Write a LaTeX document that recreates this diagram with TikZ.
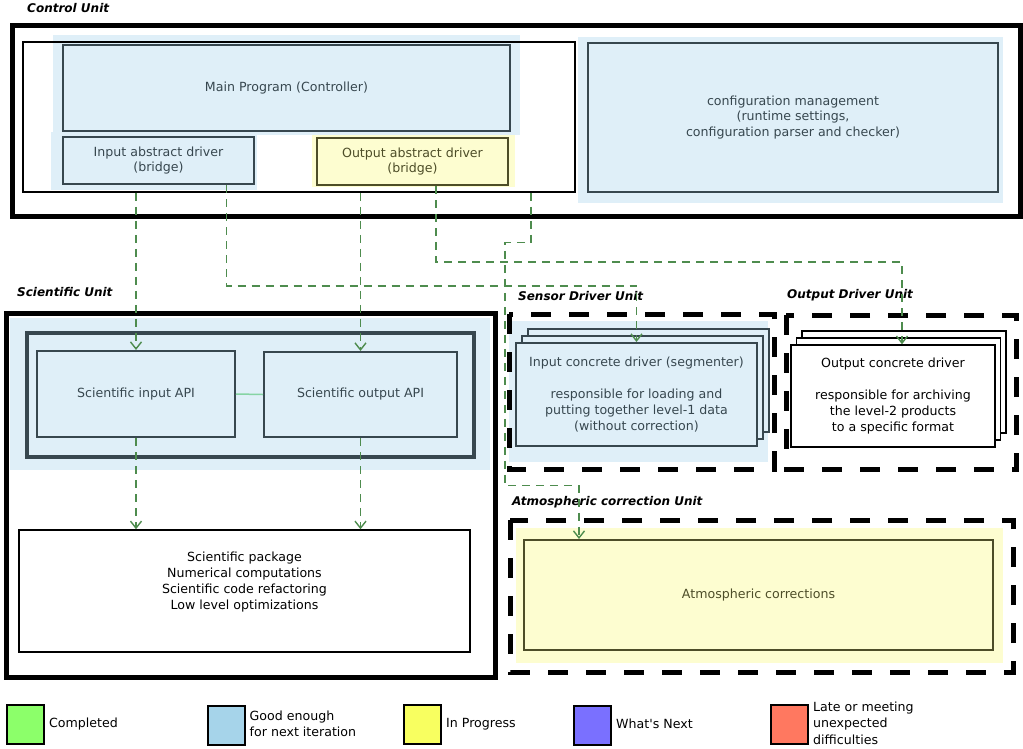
\documentclass[tikz,border=0pt]{standalone}
\usepackage{fontspec}
\setmainfont{DejaVu Sans}
\usetikzlibrary{arrows.meta,positioning}

\definecolor{paleblue}{HTML}{DFEFF8}
\definecolor{slate}{HTML}{37474F}
\definecolor{paleyellow}{HTML}{FDFDD0}
\definecolor{darkolive}{HTML}{4D4D28}
\definecolor{connectgreen}{HTML}{4E8C4E}
\definecolor{linkgreen}{HTML}{86D4A4}
\definecolor{legendgreen}{HTML}{8CFF6A}
\definecolor{legendblue}{HTML}{A6D4EA}
\definecolor{legendyellow}{HTML}{F8FF60}
\definecolor{legendpurple}{HTML}{7A70FF}
\definecolor{legendred}{HTML}{FF7860}

\newcommand{\maintext}{\fontsize{12.6}{15.8}\selectfont}

\tikzset{
  unitlabel/.style={anchor=west, inner sep=0pt, font=\fontsize{12}{14}\selectfont\bfseries\itshape},
  unitbox/.style={draw, line width=5pt},
  dashunit/.style={draw, line width=5pt, dash pattern=on 20pt off 18pt},
  bluebox/.style={draw=slate, line width=2pt, fill=paleblue, text=slate, align=center, font=\maintext},
  yellowbox/.style={draw=darkolive, line width=2pt, fill=paleyellow, text=darkolive, align=center, font=\maintext},
  whitebox/.style={draw, line width=1.5pt, fill=white, align=center, font=\maintext},
  conn/.style={draw=connectgreen, line width=1.4pt, dash pattern=on 8pt off 6pt, -{Straight Barb[length=7pt,width=11pt,line width=1.4pt]}},
  legendbox/.style={draw, line width=2pt, minimum width=37pt, minimum height=39pt},
  legendtext/.style={right=4pt of #1, inner sep=0pt, text depth=3.3pt, align=left, font=\fontsize{12.6}{16.5}\selectfont},
}

\begin{document}
\begin{tikzpicture}[x=1pt,y=-1pt]
\useasboundingbox (0,0) rectangle (1023,748);

% Control Unit
\node[unitlabel] (ctrllabel) at (27,8) {Control Unit};
\draw[unitbox] (12,25) rectangle (1020,216);
\fill[paleblue] (53,35) rectangle (520,135);
\fill[paleblue] (51,132) rectangle (257,190);
\fill[paleyellow] (312,135) rectangle (515,187);
\fill[paleblue] (578,37) rectangle (1003,203);
\node[draw, line width=1.5pt, minimum width=552pt, minimum height=150pt] (ctrlinner) at (299,117) {};
\node[bluebox, minimum width=447pt, minimum height=86pt] (mainprog) at (286.5,88) {Main Program (Controller)};
\node[bluebox, minimum width=191pt, minimum height=47pt] (inabs) at (158.5,160.5) {Input abstract driver\\(bridge)};
\node[yellowbox, minimum width=191pt, minimum height=47pt] (outabs) at (412.5,161.5) {Output abstract driver\\(bridge)};
\node[bluebox, minimum width=410pt, minimum height=149pt] (config) at (793,117.5) {configuration management\\(runtime settings,\\configuration parser and checker)};

% Scientific Unit
\node[unitlabel] (scilabel) at (17,292) {Scientific Unit};
\draw[unitbox] (6,313) rectangle (495,677);
\fill[paleblue] (10,318) rectangle (490,470);
\draw[slate, line width=4pt] (27,333) rectangle (474,457);
\node[bluebox, minimum width=198pt, minimum height=86pt] (sciin) at (136,394) {Scientific input API};
\node[bluebox, minimum width=193pt, minimum height=85pt] (sciout) at (360.5,394.5) {Scientific output API};
\node[whitebox, minimum width=451pt, minimum height=122pt] (package) at (244.5,591) {};
\node[align=center, font=\maintext] (pkgtext) at (244.5,582) {Scientific package\\Numerical computations\\Scientific code refactoring\\Low level optimizations};

% Sensor Driver Unit
\node[unitlabel] (sensorlabel) at (518,296) {Sensor Driver Unit};
\fill[paleblue] (509,321) rectangle (768,462);
\draw[dashunit] (509,314) rectangle (774,469);
\foreach \k in {2,1}
  \node[bluebox, minimum width=241pt, minimum height=103pt] (incd\k) at (636.5+6*\k,394.5-7*\k) {};
\node[bluebox, minimum width=241pt, minimum height=103pt] (incd) at (636.5,394.5) {Input concrete driver (segmenter)\\[15.8pt]responsible for loading and\\putting together level-1 data\\(without correction)};

% Output Driver Unit
\node[unitlabel] (outlabel) at (787,295) {Output Driver Unit};
\draw[dashunit] (786,315) rectangle (1016,469);
\foreach \k in {2,1}
  \node[whitebox, minimum width=204pt, minimum height=102pt] (outcd\k) at (893+5.5*\k,396-7*\k) {};
\node[whitebox, minimum width=204pt, minimum height=102pt] (outcd) at (893,396) {Output concrete driver\\[15.8pt]responsible for archiving\\the level-2 products\\to a specific format};

% Atmospheric correction Unit
\node[unitlabel] (atmolabel) at (512,502) {Atmospheric correction Unit};
\fill[paleyellow] (516,528) rectangle (1003,663);
\draw[dashunit] (510,520) rectangle (1013,672);
\node[yellowbox, minimum width=469pt, minimum height=110pt] (atmo) at (758.5,595) {Atmospheric corrections};

% connectors
\draw[conn] (ctrlinner.south -| sciin.north) -- (sciin.north);
\draw[conn] ([xshift=68pt]inabs.south) -- ++(0,101) -| (incd.north);
\draw[conn] (ctrlinner.south -| sciout.north) -- (sciout.north);
\draw[conn] ([xshift=23.5pt]outabs.south) -- ++(0,76) -| ([xshift=9pt]outcd.north);
\draw[conn] ([xshift=232pt]ctrlinner.south) -- ++(0,50) -- ++(-26,0) -- ++(0,243) -| ([xshift=-179.5pt]atmo.north);
\draw[conn] (sciin.south) -- (sciin.south |- package.north);
\draw[conn] (sciout.south) -- (sciout.south |- package.north);
\draw[linkgreen, line width=1.5pt] (sciin.east) -- (sciout.west);

% legend
\node[legendbox, fill=legendgreen] (lgreen) at (25.5,724.5) {};
\node[legendtext=lgreen] (tgreen) {Completed};
\node[legendbox, fill=legendblue] (lblue) at (226,725.5) {};
\node[legendtext=lblue] (tblue) {Good enough\\for next iteration};
\node[legendbox, fill=legendyellow] (lyellow) at (422.5,724.5) {};
\node[legendtext=lyellow] (tyellow) {In Progress};
\node[legendbox, fill=legendpurple] (lpurple) at (592.5,725.5) {};
\node[legendtext=lpurple] (tpurple) {What\textquotesingle s Next};
\node[legendbox, fill=legendred] (lred) at (789.5,724.5) {};
\node[legendtext=lred] (tred) {Late or meeting\\unexpected\\difficulties};

\end{tikzpicture}
\end{document}
